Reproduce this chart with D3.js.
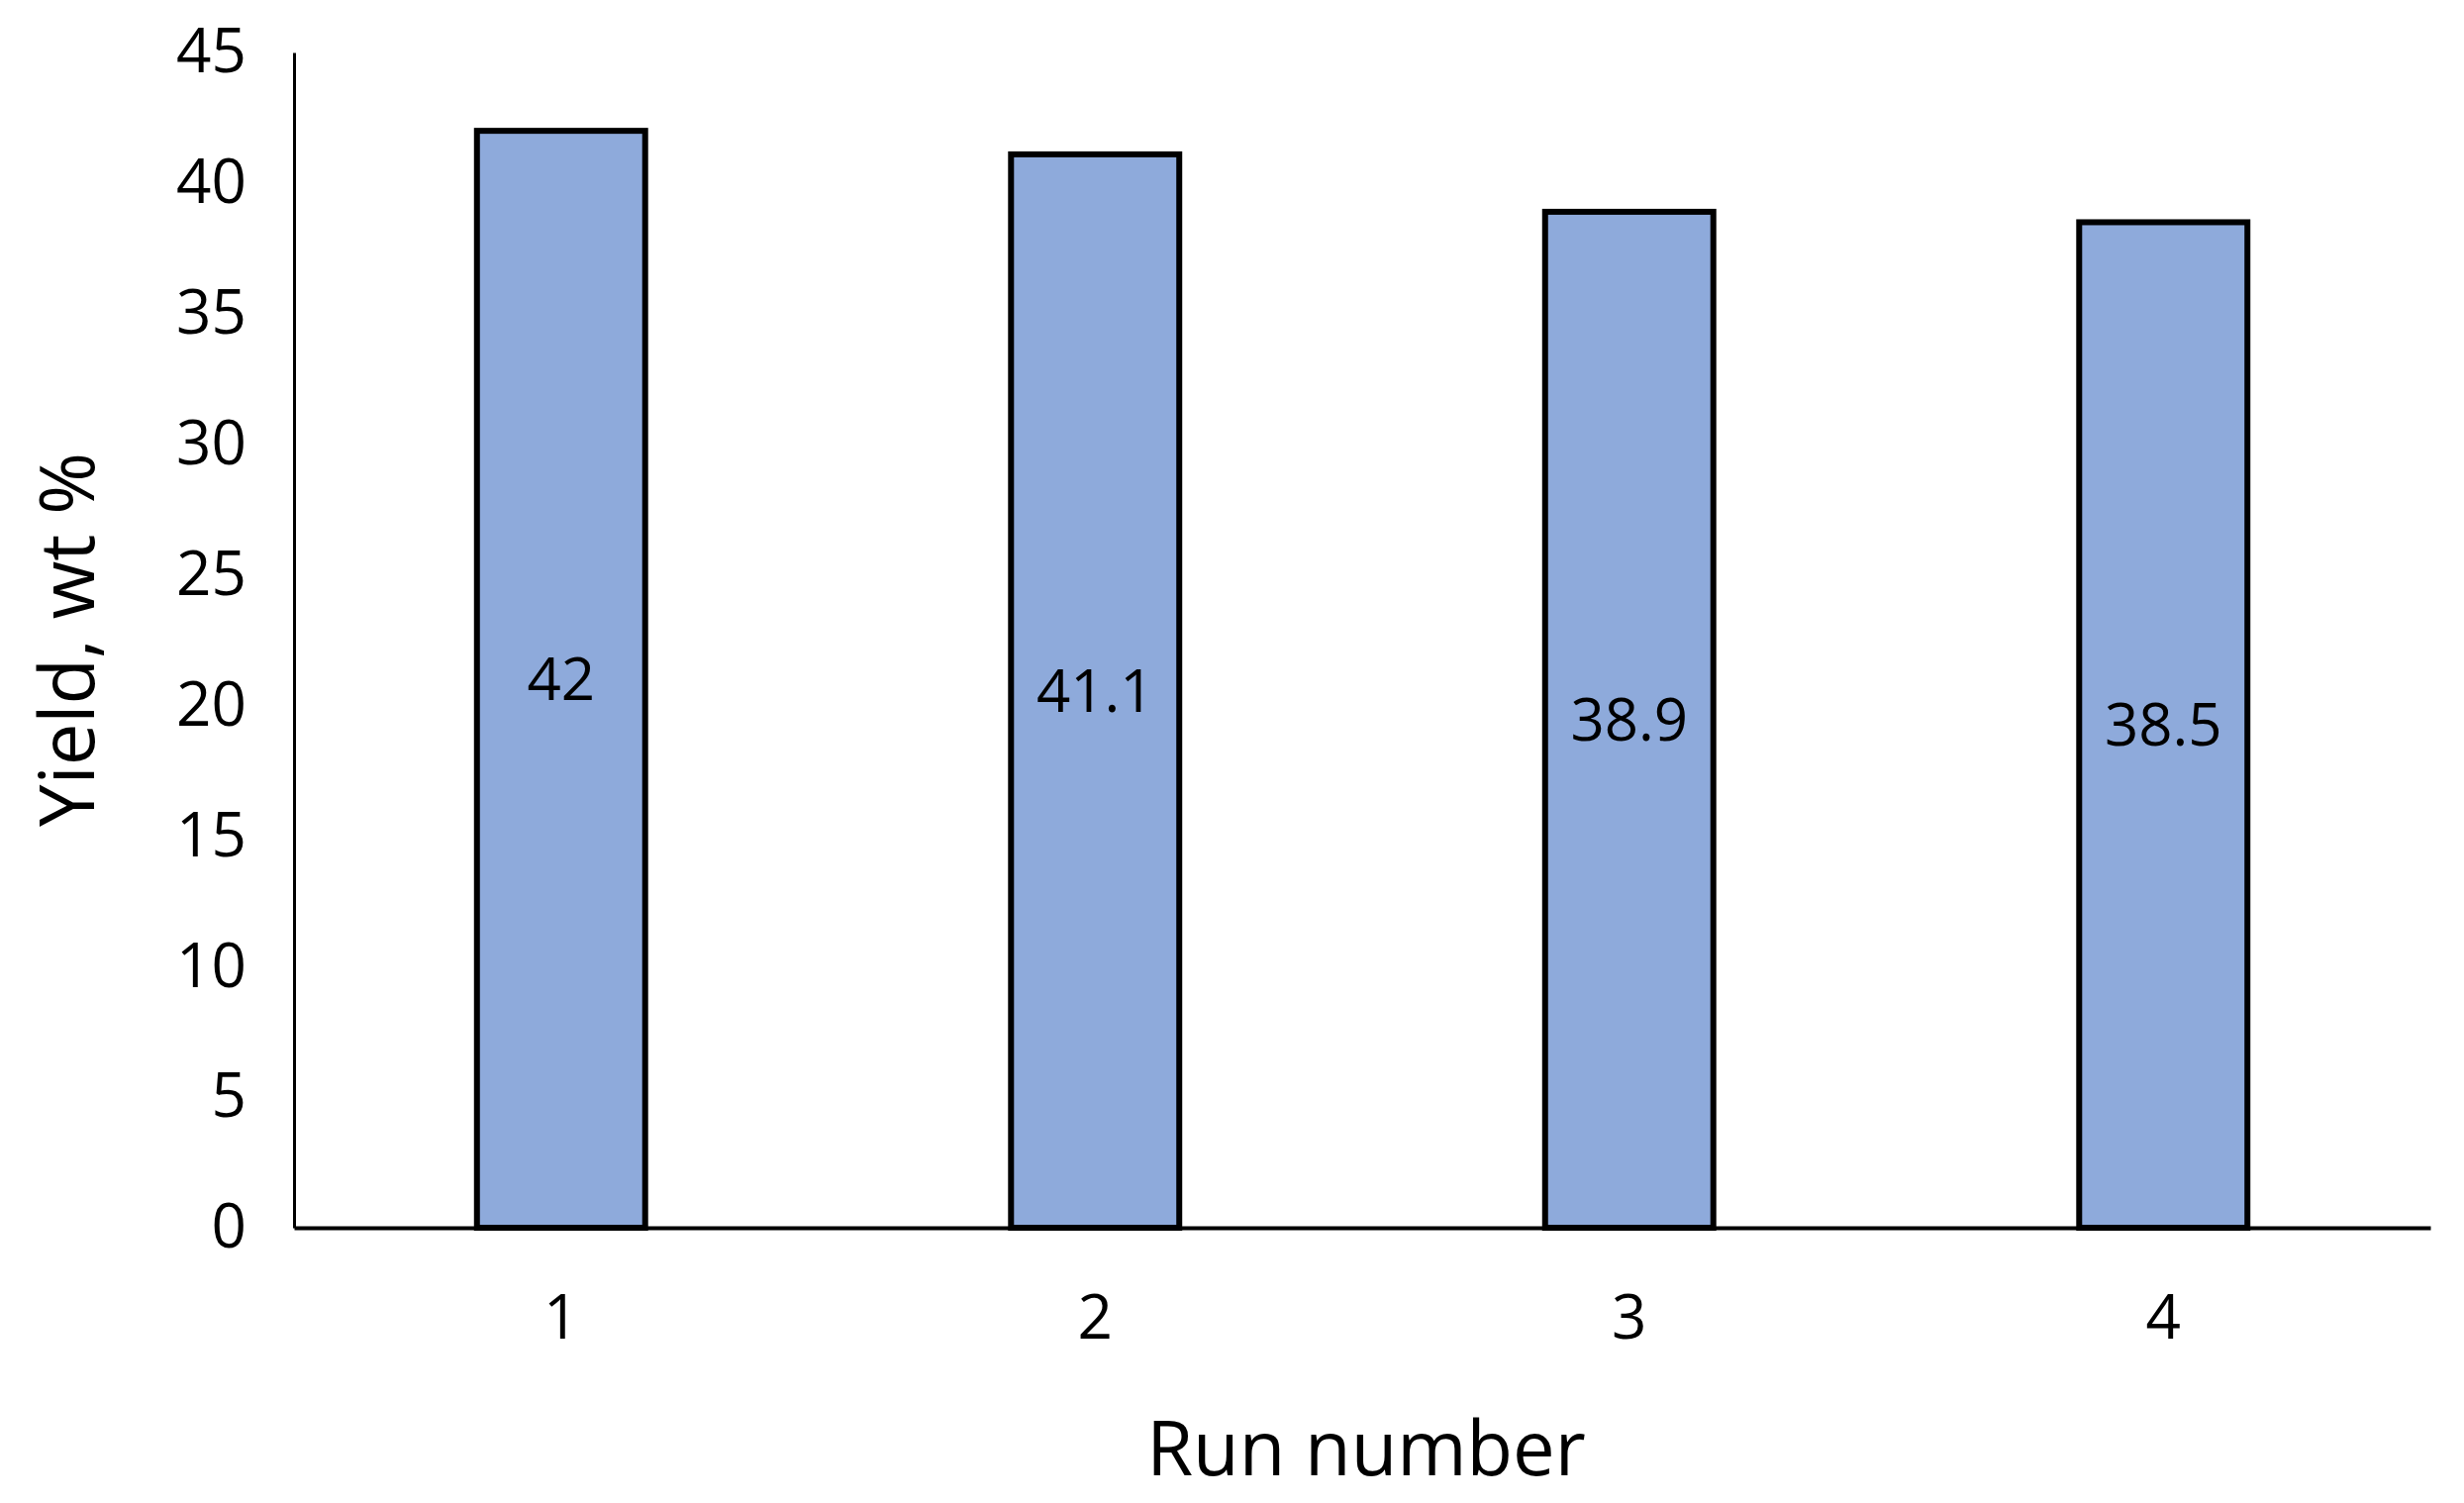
<!DOCTYPE html>
<html><head><meta charset="utf-8">
<script src="https://cdn.jsdelivr.net/npm/d3@7"></script>
<style>body{margin:0;background:#fff}text{font-family:"Open Sans","Liberation Sans",sans-serif;fill:#000}</style>
</head><body><svg id="chart" width="2489" height="1518"></svg>
<script>
const runs = ['1', '2', '3', '4'];
const yields = [42, 41.1, 38.9, 38.5];
const yTicks = [0, 5, 10, 15, 20, 25, 30, 35, 40, 45];

const M = { left: 297, right: 2455, top: 53, bottom: 1240 };
const svg = d3.select('#chart');

const x = d3.scaleBand().domain(runs).range([M.left, M.right]).paddingInner(0.685).paddingOuter(0.3425);
const y = d3.scaleLinear().domain([0, 45]).range([M.bottom, M.top]);

svg.selectAll('rect.bar').data(yields).enter().append('rect')
  .attr('x', (d, i) => x(runs[i]))
  .attr('y', d => y(d))
  .attr('width', x.bandwidth())
  .attr('height', d => y(0) - y(d))
  .attr('fill', '#8eaadb').attr('stroke', '#000').attr('stroke-width', 6);

svg.selectAll('text.val').data(yields).enter().append('text')
  .attr('x', (d, i) => x(runs[i]) + x.bandwidth() / 2)
  .attr('y', d => y(d / 2))
  .attr('dy', '0.35em').attr('text-anchor', 'middle')
  .attr('font-size', 60).text(d => d);

const yAxis = svg.append('g').attr('transform', `translate(${M.left},0)`)
  .call(d3.axisLeft(y).tickValues(yTicks).tickSize(0).tickPadding(48));
yAxis.select('.domain').attr('stroke', '#000').attr('stroke-width', 3);
yAxis.selectAll('text').attr('font-size', 62).style('font-family', '"Open Sans",sans-serif');

const xAxis = svg.append('g').attr('transform', `translate(0,${M.bottom})`)
  .call(d3.axisBottom(x).tickSize(0).tickPadding(68));
xAxis.select('.domain').attr('stroke', '#000').attr('stroke-width', 4);
xAxis.selectAll('text').attr('font-size', 62).style('font-family', '"Open Sans",sans-serif');

svg.append('text').attr('x', 1380).attr('y', 1490).attr('text-anchor', 'middle')
  .attr('font-size', 76).text('Run number');
svg.append('text').attr('transform', 'translate(95,646) rotate(-90)').attr('text-anchor', 'middle')
  .attr('font-size', 76).text('Yield, wt %');
</script></body></html>
